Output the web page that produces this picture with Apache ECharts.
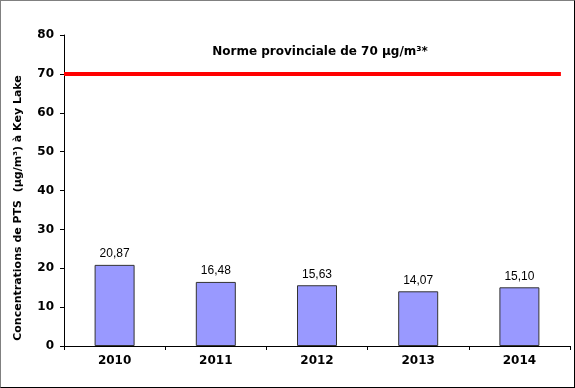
<!DOCTYPE html>
<html>
<head>
<meta charset="utf-8">
<script src="https://cdn.jsdelivr.net/npm/echarts@6/dist/echarts.min.js"></script>
<style>
html,body{margin:0;padding:0;background:#fff;}
#c{width:573px;height:386px;border-top:1px solid #808080;border-left:1px solid #808080;border-right:1px solid #000;border-bottom:1px solid #000;}
</style>
</head>
<body>
<div id="c"></div>
<script>
const categories = ['2010', '2011', '2012', '2013', '2014'];
const concentrations = [20.87, 16.48, 15.63, 14.07, 15.10];
const norme = 70;
const normeSpan = [0, 4.91];
const yTicks = { min: 0, max: 80, interval: 10 };
const normeLabel = 'Norme provinciale de 70 µg/m³*';
const yTitle = 'Concentrations de PTS  (µg/m³) à Key Lake';

const chart = echarts.init(document.getElementById('c'), null, { renderer: 'canvas' });
const boldFont = 'DejaVu Sans';
chart.setOption({
  animation: false,
  backgroundColor: '#fff',
  grid: { left: 63, right: 4, top: 34, bottom: 41 },
  xAxis: [{
    type: 'category',
    data: categories,
    boundaryGap: true,
    axisLine: { lineStyle: { color: '#000', width: 1 } },
    axisTick: { show: true, length: 4, lineStyle: { color: '#000' } },
    axisLabel: { color: '#000', fontFamily: boldFont, fontWeight: 'bold', fontSize: 12, margin: 9 },
    splitLine: { show: false }
  }, {
    type: 'value',
    min: 0, max: 5,
    show: false
  }],
  yAxis: {
    type: 'value',
    min: yTicks.min, max: yTicks.max, interval: yTicks.interval,
    axisLine: { show: true, lineStyle: { color: '#000', width: 1 } },
    axisTick: { show: true, length: 4, lineStyle: { color: '#000' } },
    axisLabel: { color: '#000', fontFamily: boldFont, fontWeight: 'bold', fontSize: 12, margin: 10 },
    splitLine: { show: false }
  },
  graphic: [
    {
      type: 'text',
      x: 17, y: 207,
      rotation: Math.PI / 2,
      style: {
        text: yTitle,
        fill: '#000',
        font: 'bold 11px "DejaVu Sans"',
        align: 'center',
        verticalAlign: 'middle'
      }
    },
    {
      type: 'text',
      x: 319, y: 51,
      style: {
        text: normeLabel,
        fill: '#000',
        font: 'bold 12px "DejaVu Sans"',
        align: 'center',
        verticalAlign: 'middle'
      }
    }
  ],
  series: [
    {
      type: 'bar',
      data: concentrations,
      barWidth: 40,
      itemStyle: { color: '#9999FF', borderColor: '#333', borderWidth: 1 },
      label: {
        show: true,
        position: 'top',
        distance: 5,
        color: '#000',
        fontFamily: 'Liberation Sans',
        fontSize: 12,
        formatter: p => p.value.toFixed(2).replace('.', ',')
      }
    },
    {
      type: 'line',
      xAxisIndex: 1,
      data: normeSpan.map(x => [x, norme]),
      symbol: 'none',
      lineStyle: { color: '#FF0000', width: 4 },
      z: 5
    }
  ]
});
</script>
</body>
</html>
